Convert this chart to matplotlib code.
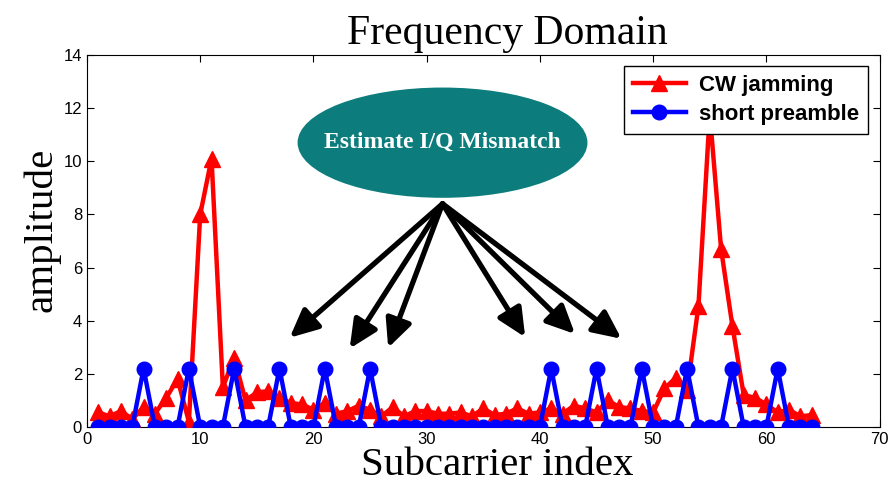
import matplotlib
matplotlib.use("Agg")
import matplotlib.pyplot as plt
from matplotlib.patches import Ellipse

# subcarrier indices
subcarriers = list(range(1, 65))

cw_jamming = [0.55, 0.4, 0.6, 0.3, 0.75, 0.5, 1.1, 1.8, 0.2, 8.0,
              10.1, 1.5, 2.6, 1.0, 1.3, 1.35, 1.1, 0.9, 0.85, 0.65,
              0.9, 0.5, 0.6, 0.8, 0.65, 0.4, 0.75, 0.4, 0.6, 0.6,
              0.5, 0.5, 0.55, 0.4, 0.7, 0.45, 0.5, 0.7, 0.5, 0.55,
              0.7, 0.5, 0.8, 0.7, 0.55, 1.0, 0.75, 0.7, 0.6, 0.55,
              1.45, 1.85, 1.4, 4.55, 11.8, 6.7, 3.8, 1.2, 1.1, 0.85,
              0.55, 0.65, 0.4, 0.45]

peak_idx = [5, 9, 13, 17, 21, 25, 41, 45, 49, 53, 57, 61]
short_preamble = [2.2 if k in peak_idx else 0.0 for k in subcarriers]

# annotation: bubble + arrows pointing to the preamble subcarriers
bubble_xy = (31.4, 10.7)
arrow_from = (31.4, 8.4)
arrow_to = [(17.9, 3.36), (23.2, 2.95), (26.6, 2.98),
            (38.7, 3.38), (43.1, 3.5), (47.2, 3.32)]

fig = plt.figure(figsize=(8.93, 4.99), dpi=100)
ax = fig.add_axes([0.0974, 0.1443, 0.8876, 0.7455])

ax.plot(subcarriers, cw_jamming, color='red', lw=3.2, marker='^', ms=12,
        label='CW jamming', zorder=3)
ax.plot(subcarriers, short_preamble, color='blue', lw=3.2, marker='o', ms=10.5,
        label='short preamble', zorder=4)

ell = Ellipse(bubble_xy, 25.6, 4.15, facecolor='#0c7c7c', edgecolor='none', zorder=5)
ax.add_patch(ell)
ax.text(bubble_xy[0], bubble_xy[1], 'Estimate I/Q Mismatch', color='white',
        fontsize=17, fontweight='bold', family='Liberation Serif',
        ha='center', va='center', zorder=6)

for tx, ty in arrow_to:
    ax.annotate('', xy=(tx, ty), xytext=arrow_from,
                arrowprops=dict(arrowstyle='-|>,head_length=1.7,head_width=0.8',
                                color='black', lw=3.8, shrinkA=0, shrinkB=0),
                zorder=6)

ax.set_xlim(0, 70)
ax.set_ylim(0, 14)
ax.set_xticks(range(0, 71, 10))
ax.set_yticks(range(0, 15, 2))
ax.tick_params(direction='in', top=True, right=True, labelsize=12, length=5)
for lab in ax.get_xticklabels() + ax.get_yticklabels():
    lab.set_family('Liberation Sans')

ax.set_title('Frequency Domain', family='Liberation Serif', fontsize=30, pad=8, x=0.531)
ax.set_xlabel('Subcarrier index', family='Liberation Serif', fontsize=29.5, labelpad=0)
ax.xaxis.label.set_x(0.517)
ax.set_ylabel('amplitude', family='Liberation Serif', fontsize=29.5, labelpad=2)
ax.yaxis.label.set_y(0.53)

leg = ax.legend(loc='upper right', prop=dict(family='Liberation Sans', weight='bold', size=16),
                fancybox=False, edgecolor='black', framealpha=1,
                borderaxespad=0.5, handlelength=2.4, labelspacing=0.35,
                borderpad=0.4, handletextpad=0.6)
leg.get_frame().set_linewidth(1.0)
leg.set_zorder(10)

fig.savefig('out.png', dpi=100)
